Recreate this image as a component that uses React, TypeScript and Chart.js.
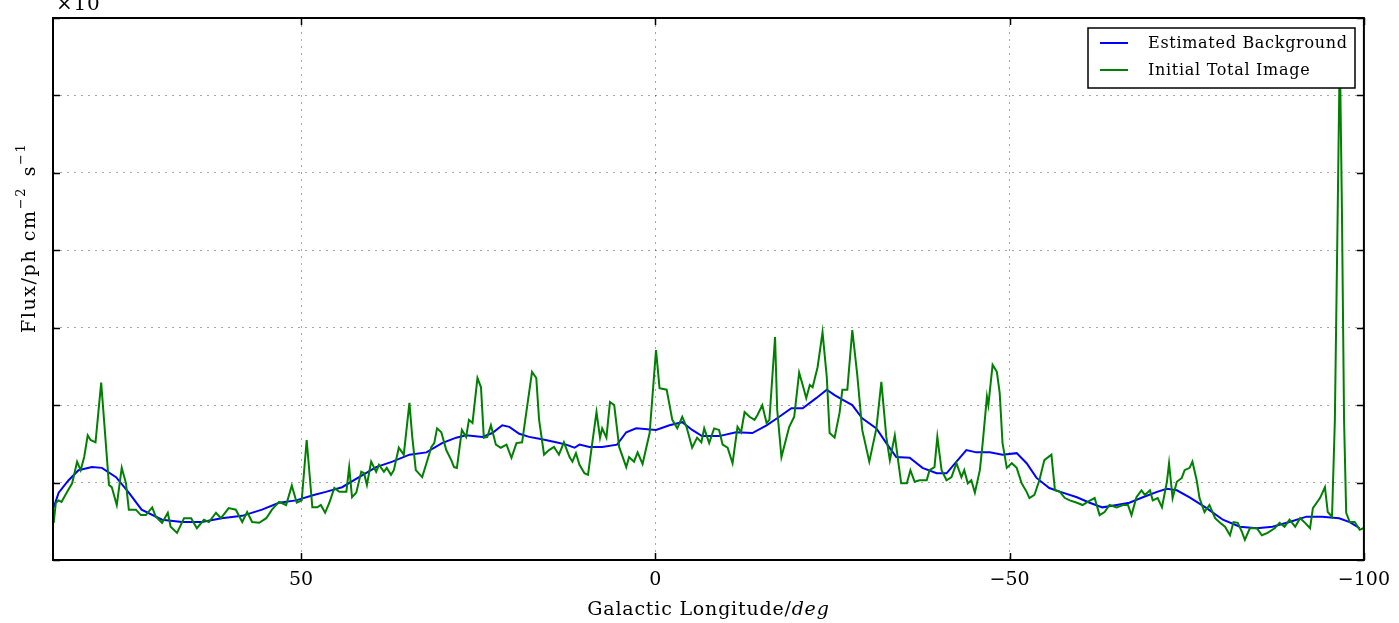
import React, { useEffect, useRef } from 'react';
import { Chart, registerables } from 'chart.js';

Chart.register(...registerables);

const W = 1399;
const H = 623;
const SERIF = '"DejaVu Serif", "Liberation Serif", serif';

const xTickValues = [50, 0, -50, -100];
const yTickValues = [0, 1, 2, 3, 4, 5, 6, 7];

const seriesLabels = ['Estimated Background', 'Initial Total Image'];
const seriesColors = ['#0000ff', '#008000'];

// Initial Total Image (green)
const totalLon = [
  84.9, 84.6, 84.2, 83.8, 83.0, 82.3, 81.6, 81.1, 80.6, 80.1, 79.7, 79.0, 78.2, 77.8, 77.1, 76.7, 76.0, 75.3, 74.7, 74.3,
  73.3, 72.6, 71.9, 71.0, 70.5, 69.6, 68.8, 68.4, 67.5, 66.5, 65.5, 64.7, 63.7, 63.0, 62.0, 61.3, 60.2, 59.2, 58.3, 57.6,
  56.9, 55.9, 54.9, 54.1, 53.1, 52.1, 51.3, 50.6, 49.9, 49.2, 48.4, 47.7, 47.2, 46.6, 46.0, 45.3, 44.6, 43.6, 43.2, 42.8,
  42.2, 41.5, 41.1, 40.7, 40.1, 39.4, 39.0, 38.3, 37.9, 37.3, 36.9, 36.2, 35.5, 34.7, 34.3, 33.8, 32.9, 32.3, 31.6, 31.2,
  30.8, 30.2, 29.5, 28.8, 28.4, 28.0, 27.3, 26.7, 26.3, 25.8, 25.1, 24.6, 24.2, 23.7, 23.2, 22.5, 21.8, 21.0, 20.3, 19.6,
  18.8, 18.2, 17.4, 16.8, 16.4, 15.7, 15.0, 14.3, 13.6, 12.9, 12.1, 11.7, 11.2, 10.7, 10.0, 9.5, 8.9, 8.3, 7.8, 7.5,
  6.9, 6.4, 5.8, 5.1, 4.1, 3.7, 3.0, 2.5, 1.8, 0.8, -0.1, -0.6, -1.6, -2.4, -3.1, -3.8, -4.4, -5.2, -5.9, -6.5,
  -6.9, -7.6, -8.3, -9.0, -9.5, -10.2, -10.9, -11.6, -12.1, -12.6, -13.3, -14.0, -14.4, -15.1, -15.7, -16.1, -16.9, -17.2, -17.8, -18.5,
  -18.9, -19.6, -20.3, -20.8, -21.3, -21.8, -22.2, -22.9, -23.6, -24.2, -24.6, -25.3, -26.0, -26.4, -27.1, -27.8, -28.5, -29.2, -30.2, -31.2,
  -31.9, -32.6, -33.1, -33.8, -34.2, -34.7, -35.5, -36.0, -36.6, -37.3, -38.3, -38.7, -39.4, -39.8, -40.4, -41.1, -41.8, -42.5, -43.2, -43.6,
  -44.1, -44.6, -45.1, -45.8, -46.2, -46.8, -47.0, -47.6, -48.2, -48.6, -49.0, -49.6, -50.3, -51.0, -51.7, -52.4, -52.8, -53.5, -54.2, -54.9,
  -55.9, -56.4, -57.1, -57.8, -58.5, -59.5, -60.3, -61.0, -62.0, -62.7, -63.4, -64.1, -65.1, -66.0, -66.7, -67.2, -67.9, -68.6, -69.1, -69.8,
  -70.2, -70.9, -71.5, -72.2, -72.5, -73.0, -73.6, -74.3, -74.7, -75.4, -75.8, -76.4, -76.8, -77.5, -78.2, -79.0, -79.7, -80.4, -81.1, -81.6,
  -82.2, -82.8, -83.2, -83.9, -84.9, -85.6, -86.4, -87.4, -88.1, -88.8, -89.5, -90.3, -91.0, -91.7, -92.4, -92.8, -93.8, -94.5, -94.9, -95.5,
  -95.9, -96.3, -96.6, -96.9, -97.2, -97.5, -98.0, -98.7, -99.4, -99.9,
];
const totalFlux = [
  0.48, 0.74, 0.77, 0.75, 0.88, 0.99, 1.27, 1.16, 1.33, 1.61, 1.55, 1.52, 2.29, 1.81, 0.97, 0.94, 0.71, 1.19, 0.99, 0.65,
  0.65, 0.58, 0.58, 0.68, 0.56, 0.48, 0.61, 0.43, 0.35, 0.54, 0.54, 0.41, 0.52, 0.49, 0.61, 0.54, 0.67, 0.65, 0.49, 0.62,
  0.49, 0.48, 0.54, 0.65, 0.75, 0.71, 0.96, 0.74, 0.77, 1.55, 0.68, 0.68, 0.71, 0.61, 0.74, 0.93, 0.88, 0.88, 1.20, 0.81,
  0.87, 1.14, 1.12, 0.97, 1.27, 1.14, 1.23, 1.14, 1.19, 1.10, 1.16, 1.45, 1.36, 2.03, 1.59, 1.16, 1.07, 1.25, 1.46, 1.51,
  1.70, 1.65, 1.42, 1.29, 1.20, 1.19, 1.68, 1.59, 1.81, 1.77, 2.35, 2.23, 1.58, 1.59, 1.74, 1.49, 1.45, 1.49, 1.32, 1.51,
  1.52, 1.91, 2.43, 2.35, 1.81, 1.36, 1.42, 1.46, 1.36, 1.52, 1.33, 1.27, 1.38, 1.23, 1.12, 1.10, 1.51, 1.91, 1.58, 1.70,
  1.58, 2.04, 2.00, 1.46, 1.20, 1.33, 1.27, 1.39, 1.24, 1.64, 2.71, 2.22, 2.20, 1.81, 1.70, 1.85, 1.72, 1.45, 1.58, 1.52,
  1.70, 1.51, 1.70, 1.68, 1.49, 1.45, 1.25, 1.72, 1.65, 1.91, 1.85, 1.81, 1.87, 2.00, 1.77, 1.81, 2.88, 1.94, 1.33, 1.58,
  1.72, 1.85, 2.42, 2.26, 2.09, 2.26, 2.23, 2.49, 2.94, 2.36, 1.64, 1.58, 1.90, 2.20, 2.20, 2.97, 2.39, 1.68, 1.27, 1.70,
  2.30, 1.59, 1.29, 1.61, 1.33, 0.99, 0.99, 1.16, 1.01, 1.03, 1.03, 1.16, 1.20, 1.59, 1.16, 1.03, 1.07, 1.25, 1.07, 1.16,
  0.99, 1.03, 0.87, 1.16, 1.51, 2.11, 2.00, 2.52, 2.43, 2.16, 1.51, 1.19, 1.25, 1.19, 0.99, 0.88, 0.80, 0.84, 1.03, 1.29,
  1.36, 0.90, 0.88, 0.80, 0.77, 0.74, 0.71, 0.75, 0.80, 0.58, 0.62, 0.71, 0.68, 0.71, 0.71, 0.58, 0.81, 0.90, 0.84, 0.90,
  0.77, 0.80, 0.68, 1.01, 1.25, 0.80, 1.01, 1.06, 1.16, 1.19, 1.27, 1.03, 0.80, 0.62, 0.71, 0.54, 0.48, 0.43, 0.32, 0.49,
  0.48, 0.36, 0.26, 0.41, 0.41, 0.32, 0.35, 0.41, 0.48, 0.43, 0.52, 0.43, 0.54, 0.48, 0.41, 0.67, 0.80, 0.94, 0.62, 0.56,
  1.80, 4.50, 6.60, 4.50, 1.80, 0.61, 0.49, 0.49, 0.39, 0.41,
];

// Estimated Background (blue)
const backgroundLon = [
  84.9, 84.2, 82.8, 81.4, 79.5, 78.1, 76.1, 74.3, 72.5, 69.6, 66.8, 64.0, 61.2, 58.3, 55.5, 53.1, 50.7, 48.2, 46.5, 44.2,
  41.8, 39.4, 37.1, 34.7, 32.3, 30.1, 28.1, 26.7, 24.4, 23.0, 21.6, 20.6, 19.2, 17.8, 16.0, 14.0, 12.6, 11.4, 10.7, 9.3,
  7.5, 5.4, 4.1, 2.7, -0.1, -2.0, -3.8, -5.2, -6.6, -9.0, -11.4, -13.7, -15.7, -17.5, -19.2, -20.8, -22.7, -24.2, -25.3, -26.4,
  -27.8, -29.2, -31.2, -32.6, -34.0, -35.9, -37.7, -39.7, -41.1, -42.5, -43.9, -45.3, -47.2, -49.0, -51.0, -52.4, -53.8, -55.6, -57.5, -59.5,
  -61.3, -63.1, -65.1, -66.9, -68.8, -70.8, -72.2, -73.6, -75.4, -77.8, -80.1, -82.5, -84.9, -87.1, -89.5, -91.9, -94.1, -96.5, -98.0, -99.4,
];
const backgroundFlux = [
  0.68, 0.87, 1.03, 1.16, 1.20, 1.19, 1.07, 0.87, 0.65, 0.52, 0.49, 0.49, 0.54, 0.57, 0.65, 0.74, 0.77, 0.84, 0.88, 0.94,
  1.07, 1.20, 1.27, 1.36, 1.39, 1.51, 1.58, 1.61, 1.59, 1.64, 1.74, 1.72, 1.63, 1.59, 1.56, 1.52, 1.49, 1.45, 1.49, 1.46,
  1.46, 1.49, 1.65, 1.70, 1.68, 1.74, 1.78, 1.68, 1.60, 1.60, 1.65, 1.64, 1.74, 1.85, 1.96, 1.96, 2.09, 2.20, 2.13, 2.07,
  2.00, 1.83, 1.70, 1.51, 1.33, 1.32, 1.19, 1.12, 1.12, 1.27, 1.42, 1.39, 1.39, 1.36, 1.38, 1.25, 1.06, 0.93, 0.87, 0.81,
  0.74, 0.68, 0.71, 0.74, 0.81, 0.88, 0.92, 0.90, 0.81, 0.67, 0.52, 0.43, 0.41, 0.43, 0.49, 0.56, 0.56, 0.54, 0.49, 0.41,
];

function toPoints(xs: number[], ys: number[]) {
  return xs.map((x, i) => ({ x, y: ys[i] }));
}

const decorPlugin = {
  id: 'decor',
  afterDraw(chart: any) {
    const { ctx, chartArea: a, scales } = chart;
    ctx.save();
    ctx.strokeStyle = '#000';
    ctx.lineWidth = 1.5;
    const tickLen = 7;
    ctx.beginPath();
    for (const v of xTickValues) {
      const px = Math.round(scales.x.getPixelForValue(v)) + 0.5;
      ctx.moveTo(px, a.bottom);
      ctx.lineTo(px, a.bottom - tickLen);
      ctx.moveTo(px, a.top);
      ctx.lineTo(px, a.top + tickLen);
    }
    for (const v of yTickValues) {
      const py = Math.round(scales.y.getPixelForValue(v)) + 0.5;
      ctx.moveTo(a.left, py);
      ctx.lineTo(a.left + tickLen, py);
      ctx.moveTo(a.right, py);
      ctx.lineTo(a.right - tickLen, py);
    }
    ctx.stroke();

    ctx.lineWidth = 2;
    ctx.strokeRect(a.left, a.top, a.right - a.left, a.bottom - a.top);

    ctx.fillStyle = '#000';
    ctx.textBaseline = 'alphabetic';
    ctx.textAlign = 'left';

    // x title
    const regFont = `19px ${SERIF}`;
    const itFont = `italic 19px ${SERIF}`;
    const part1 = 'Galactic Longitude/';
    const part2 = 'deg';
    ctx.letterSpacing = '0.8px';
    ctx.font = regFont;
    const w1 = ctx.measureText(part1).width;
    ctx.font = itFont;
    const w2 = ctx.measureText(part2).width;
    const cx = (a.left + a.right) / 2;
    const sx = cx - (w1 + w2) / 2;
    ctx.font = regFont;
    ctx.fillText(part1, sx, 615);
    ctx.font = itFont;
    ctx.fillText(part2, sx + w1, 615);

    // y title
    ctx.save();
    ctx.letterSpacing = '1.6px';
    ctx.translate(35, 333);
    ctx.rotate(-Math.PI / 2);
    const supFont = `13px ${SERIF}`;
    let tx = 0;
    const pieces: [string, string, number][] = [
      ['Flux/ph cm', regFont, 0],
      ['\u22122', supFont, -10],
      [' s', regFont, 0],
      ['\u22121', supFont, -10],
    ];
    for (const [t, f, dy] of pieces) {
      ctx.font = f;
      ctx.fillText(t, tx, dy);
      tx += ctx.measureText(t).width + (dy !== 0 ? 3 : 0);
    }
    ctx.restore();

    // offset text (clipped at top)
    ctx.font = `20px ${SERIF}`;
    ctx.fillText('\u00d710', 56, 10);

    // legend
    const lx = 1088, ly = 28, lw = 267, lh = 60;
    ctx.fillStyle = '#fff';
    ctx.fillRect(lx, ly, lw, lh);
    ctx.strokeStyle = '#000';
    ctx.lineWidth = 1.5;
    ctx.strokeRect(lx, ly, lw, lh);
    ctx.letterSpacing = '0.7px';
    ctx.font = `16px ${SERIF}`;
    seriesLabels.forEach((lab, i) => {
      const y = ly + 15 + i * 27;
      ctx.strokeStyle = seriesColors[i];
      ctx.lineWidth = 2;
      ctx.beginPath();
      ctx.moveTo(lx + 12, y);
      ctx.lineTo(lx + 40, y);
      ctx.stroke();
      ctx.fillStyle = '#000';
      ctx.textBaseline = 'middle';
      ctx.fillText(lab, lx + 60, y + 1);
    });
    ctx.restore();
  },
};

export default function App() {
  const ref = useRef<HTMLCanvasElement | null>(null);

  useEffect(() => {
    document.body.style.margin = '0';
    const canvas = ref.current;
    if (!canvas) return;
    const chart = new Chart(canvas, {
      type: 'line',
      data: {
        datasets: [
          {
            label: seriesLabels[0],
            data: toPoints(backgroundLon, backgroundFlux),
            borderColor: seriesColors[0],
            borderWidth: 2,
            pointRadius: 0,
            tension: 0,
            fill: false,
            order: 1,
          },
          {
            label: seriesLabels[1],
            data: toPoints(totalLon, totalFlux),
            borderColor: seriesColors[1],
            borderWidth: 2,
            pointRadius: 0,
            tension: 0,
            fill: false,
            order: 0,
          },
        ],
      },
      options: {
        animation: false,
        responsive: false,
        maintainAspectRatio: false,
        devicePixelRatio: 1,
        layout: { padding: { top: 18, right: 35, left: 0, bottom: 0 } },
        plugins: {
          legend: { display: false },
          tooltip: { enabled: false },
          title: { display: false },
        },
        scales: {
          x: {
            type: 'linear',
            reverse: true,
            min: -100,
            max: 85,
            afterBuildTicks: (scale: any) => {
              scale.ticks = xTickValues.map((v) => ({ value: v }));
            },
            afterFit: (scale: any) => {
              scale.height = 63;
            },
            ticks: {
              font: { family: SERIF, size: 19 },
              color: '#000',
              padding: 9,
              maxRotation: 0,
              callback: (v: any) => (v < 0 ? '\u2212' + Math.abs(v) : String(v)),
            },
            grid: { color: 'rgba(0,0,0,0.35)', lineWidth: 1, drawTicks: false },
            border: { display: false, dash: [2, 5] },
          },
          y: {
            type: 'linear',
            min: 0,
            max: 7,
            afterBuildTicks: (scale: any) => {
              scale.ticks = yTickValues.map((v) => ({ value: v }));
            },
            afterFit: (scale: any) => {
              scale.width = 53;
            },
            ticks: { display: false },
            grid: { color: 'rgba(0,0,0,0.35)', lineWidth: 1, drawTicks: false },
            border: { display: false, dash: [2, 5] },
          },
        },
      },
      plugins: [decorPlugin],
    });
    return () => chart.destroy();
  }, []);

  return (
    <div style={{ position: 'absolute', left: 0, top: 0, width: W, height: H, background: '#fff' }}>
      <canvas ref={ref} width={W} height={H} style={{ width: W, height: H, display: 'block' }} />
    </div>
  );
}
